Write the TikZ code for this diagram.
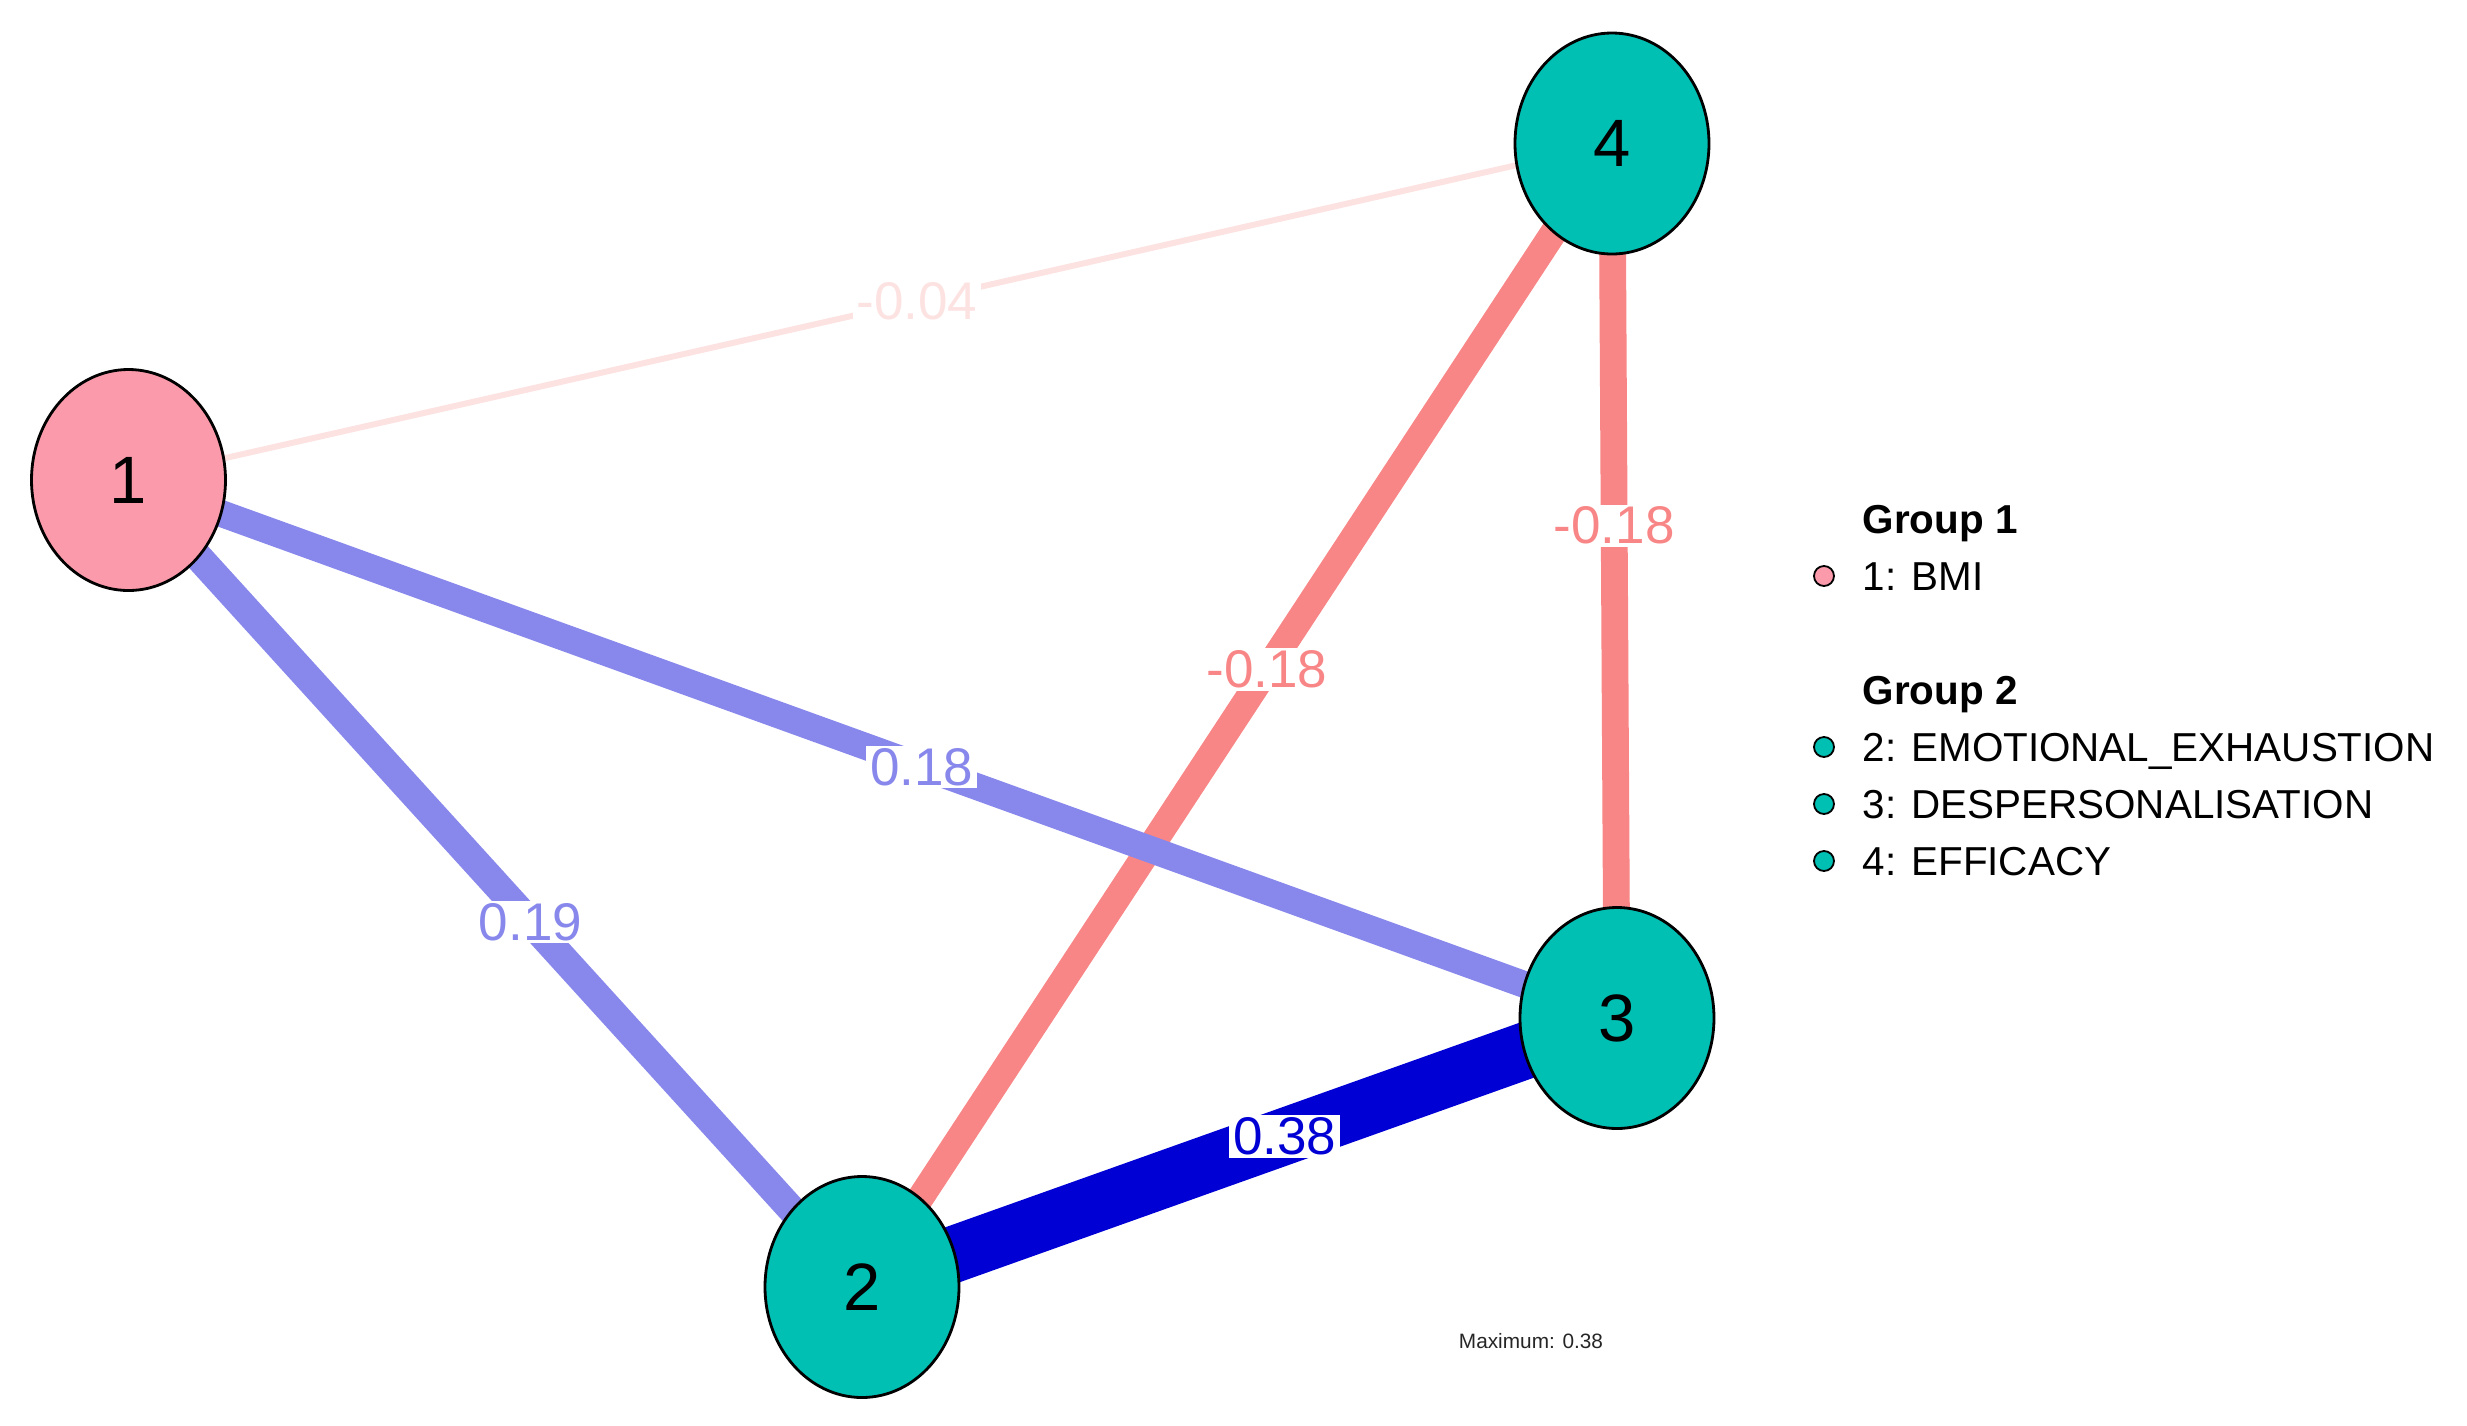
\documentclass[tikz,border=0pt]{standalone}
\usepackage{fontspec}
\setmainfont{Liberation Sans}
\usetikzlibrary{shapes.geometric}
\pgfdeclarelayer{edgelayer}
\pgfsetlayers{edgelayer,main}
\definecolor{pinknode}{RGB}{251,154,170}
\definecolor{tealnode}{RGB}{0,191,179}
\definecolor{posfull}{RGB}{0,0,213}
\definecolor{poshalf}{RGB}{135,135,236}
\definecolor{neghalf}{RGB}{249,134,134}
\definecolor{negfaint}{RGB}{253,226,226}
\begin{document}
\begin{tikzpicture}[x=0.25pt,y=-0.25pt,
  vnode/.style={ellipse, draw=black, line width=0.7pt, minimum width=48.5pt,
    minimum height=55.25pt, inner sep=0pt, font=\fontsize{16.75}{20}\selectfont},
  elabel/.style={fill=white, inner xsep=1pt, inner ysep=0.6pt,
    font=\fontsize{13.25}{16}\selectfont},
  edgeline/.style={line cap=butt},
  legtext/.style={anchor=base west, inner sep=0pt, font=\fontsize{10.1}{12}\selectfont},
  leghead/.style={anchor=base west, inner sep=0pt, font=\fontsize{10.1}{12}\selectfont\bfseries},
  legdot/.style={circle, draw=black, line width=0.45pt, minimum size=5pt, inner sep=0pt}
]
\useasboundingbox (0,0) rectangle (2467,1426);

% nodes
\node[vnode, fill=pinknode] (n1) at (128.5,480) {1};
\node[vnode, fill=tealnode] (n2) at (862,1287) {2};
\node[vnode, fill=tealnode] (n3) at (1617,1018) {3};
\node[vnode, fill=tealnode] (n4) at (1612,143.5) {4};

% edges
\begin{pgfonlayer}{edgelayer}
\draw[edgeline, line width=1.5pt, draw=negfaint] (n1.center) --
  node[elabel, text=negfaint, pos=0.5315] (l14) {-0.04} (n4.center);
\draw[edgeline, line width=6.7pt, draw=neghalf] (n4.center) --
  node[elabel, text=neghalf, pos=0.437] (l34) {-0.18} (n3.center);
\draw[edgeline, line width=6.7pt, draw=neghalf] (n2.center) --
  node[elabel, text=neghalf, pos=0.54] (l24) {-0.18} (n4.center);
\draw[edgeline, line width=6.7pt, draw=poshalf] (n1.center) --
  node[elabel, text=poshalf, pos=0.533] (l13) {0.18} (n3.center);
\draw[edgeline, line width=7.1pt, draw=poshalf] (n1.center) --
  node[elabel, text=poshalf, pos=0.548] (l12) {0.19} (n2.center);
\draw[edgeline, line width=14.15pt, draw=posfull] (n2.center) --
  node[elabel, text=posfull, pos=0.56] (l23) {0.38} (n3.center);
\end{pgfonlayer}

% legend
\node[leghead] (g1) at (1862,533) {Group 1};
\node[legdot, fill=pinknode] (d1) at (1824,576) {};
\node[legtext] (t1) at (1862,590) {1: BMI};
\node[leghead] (g2) at (1862,704) {Group 2};
\node[legdot, fill=tealnode] (d2) at (1824,747) {};
\node[legtext] (t2) at (1862,761) {2: EMOTIONAL\_EXHAUSTION};
\node[legdot, fill=tealnode] (d3) at (1824,804) {};
\node[legtext] (t3) at (1862,818) {3: DESPERSONALISATION};
\node[legdot, fill=tealnode] (d4) at (1824,861) {};
\node[legtext] (t4) at (1862,875) {4: EFFICACY};

\node[inner sep=0pt, text=black!85, font=\fontsize{5.2}{6.2}\selectfont] (mx) at (1531,1341) {Maximum: 0.38};
\end{tikzpicture}
\end{document}
